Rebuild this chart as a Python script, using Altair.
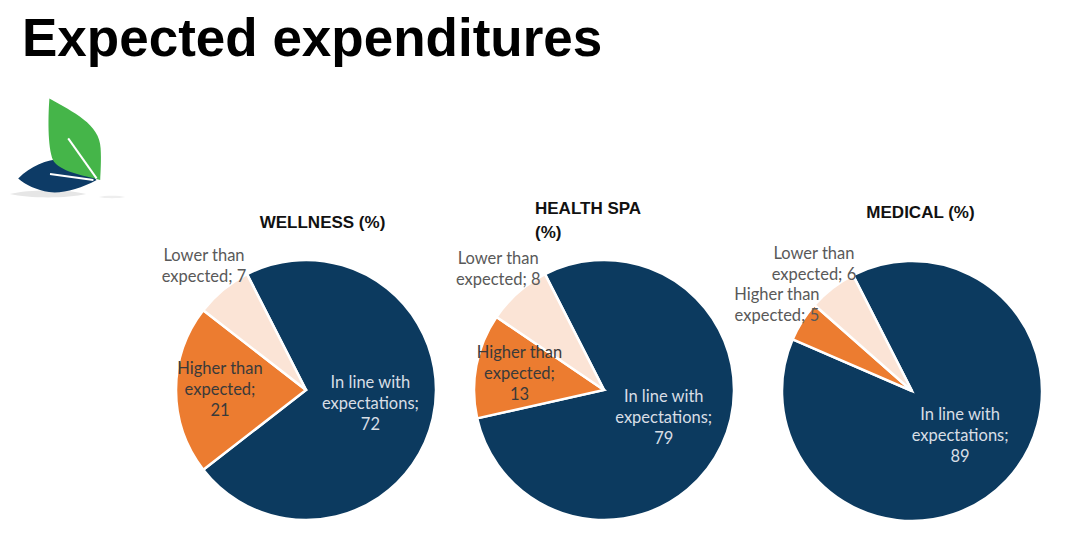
import math
import altair as alt
import pandas as pd

# ---------------- data ----------------
title_text = "Expected expenditures"
pies = ["WELLNESS", "HEALTH SPA", "MEDICAL"]
pie_titles = ["WELLNESS (%)", "HEALTH SPA\n(%)", "MEDICAL (%)"]
categories = ["In line with expectations", "Higher than expected", "Lower than expected"]
label_lines = [("In line with", "expectations"), ("Higher than", "expected"), ("Lower than", "expected")]
wellness = [72, 21, 7]
health_spa = [79, 13, 8]
medical = [89, 5, 6]

series = [wellness, health_spa, medical]
rows = []
for p, vals in zip(pies, series):
    for i, (c, v) in enumerate(zip(categories, vals)):
        a, b = label_lines[i]
        lab = f"{a}\n{b};\n{v}" if v >= 10 else f"{a}\n{b}; {v}"
        rows.append({"pie": p, "cat": c, "ord": i, "value": v, "label": lab})
df = pd.DataFrame(rows)

# ---------------- style ----------------
NAVY = "#0c3a5f"
ORANGE = "#ec7c30"
PEACH = "#fbe4d6"
START = -27 * math.pi / 180
R = 130
centers = [(298, 382), (596, 382), (904, 383)]
LABEL_FONT = "Lato"
LH = 21

theta = alt.Theta("value:Q", stack=True,
                  scale=alt.Scale(domain=[0, 100], range=[START, START + 2 * math.pi]))
order = alt.Order("ord:Q", sort="ascending")
color = alt.Color("cat:N", scale=alt.Scale(domain=categories, range=[NAVY, ORANGE, PEACH]),
                  legend=None)

layers = []

# logo (decorative leaves)
logo = pd.DataFrame({"k": [0]})
shadow_path = "M -1 0 C -0.5 -0.12 0.5 -0.12 1 0 C 0.5 0.12 -0.5 0.12 -1 0 Z"
navy_leaf = ("M -0.97 0.06 C -0.6 -0.3 -0.1 -0.48 0.3 -0.4 C 0.6 -0.32 0.85 -0.05 0.99 0.1 "
             "C 0.6 0.32 0.1 0.45 -0.2 0.4 C -0.5 0.35 -0.8 0.22 -0.97 0.06 Z")
green_leaf = ("M -0.64 -1.04 C -0.05 -0.7 0.62 -0.4 0.64 0.2 C 0.66 0.5 0.64 0.8 0.63 1.0 "
              "C 0.3 0.9 -0.3 0.82 -0.52 0.55 C -0.68 0.3 -0.68 -0.5 -0.64 -1.04 Z")
navy_vein = "M -0.175 -0.05 L 0.91 0.1"
green_vein = "M -0.17 -0.04 L 0.54 0.96"
for path, cx, cy, fill, size in [
    (shadow_path, 40, 186, "#e6e6e6", 5800),
    (shadow_path, 104, 189, "#eeeeee", 700),
    (navy_leaf, 49, 168, "#0d3b66", 6400),
    (green_leaf, 67, 132, "#45b549", 6400),
]:
    layers.append(alt.Chart(logo).mark_point(shape=path, size=size, filled=True, fill=fill,
                                             opacity=1, strokeWidth=0)
                  .encode(x=alt.value(cx), y=alt.value(cy)))
for path, cx, cy in [(navy_vein, 49, 168), (green_vein, 67, 132)]:
    layers.append(alt.Chart(logo).mark_point(shape=path, size=6400, filled=False,
                                             stroke="white", strokeWidth=2, opacity=1)
                  .encode(x=alt.value(cx), y=alt.value(cy)))

# main title
layers.append(alt.Chart(pd.DataFrame({"t": [title_text]})).mark_text(
    align="left", baseline="alphabetic", fontSize=53, font="Liberation Sans",
    fontWeight="bold", color="#000000").encode(text="t:N", x=alt.value(14), y=alt.value(48)))

# pies
title_pos = [(314.5, 214.5, "center", 0), (527, 201, "left", 0), (912.5, 204.5, "center", 0)]
for p, t, (cx, cy), (tx, ty, tal, tdy) in zip(pies, pie_titles, centers, title_pos):
    base = alt.Chart(df).transform_filter(alt.datum.pie == p)
    layers.append(base.mark_arc(outerRadius=R, stroke="white", strokeWidth=2.5)
                  .encode(theta=theta, order=order, color=color,
                          x=alt.value(cx), y=alt.value(cy)))
    specs = [
        ("datum.cat == 'In line with expectations' ? datum.label : ''", 66, "#d8dee5", -LH),
        ("datum.cat == 'Higher than expected' && datum.value >= 10 ? datum.label : ''", 86,
         "#3a3a3a", -LH),
        ("datum.value < 10 ? datum.label : ''", 160, "#595959", -LH / 2),
    ]
    for expr, rad, col, dy in specs:
        layers.append(base.transform_calculate(lab=expr)
                      .mark_text(fontSize=16.5, font=LABEL_FONT, lineBreak="\n", lineHeight=LH,
                                 align="center", baseline="middle", color=col, dy=dy)
                      .encode(theta=theta, order=order, detail="cat:N", text="lab:N",
                              radius=alt.value(rad), x=alt.value(cx), y=alt.value(cy)))
    layers.append(alt.Chart(pd.DataFrame({"t": [t]})).mark_text(
        align=tal, baseline="middle", fontSize=17, font="Liberation Sans", fontWeight="bold",
        color="#111111", lineBreak="\n", lineHeight=24)
        .encode(text="t:N", x=alt.value(tx), y=alt.value(ty)))

chart = alt.layer(*layers).properties(
    width=1053, height=530, padding=0,
    autosize=alt.AutoSizeParams(type="none"),
    background="white",
).configure_view(stroke=None)

chart.save("out.html", embed_options={"renderer": "svg", "actions": False})
